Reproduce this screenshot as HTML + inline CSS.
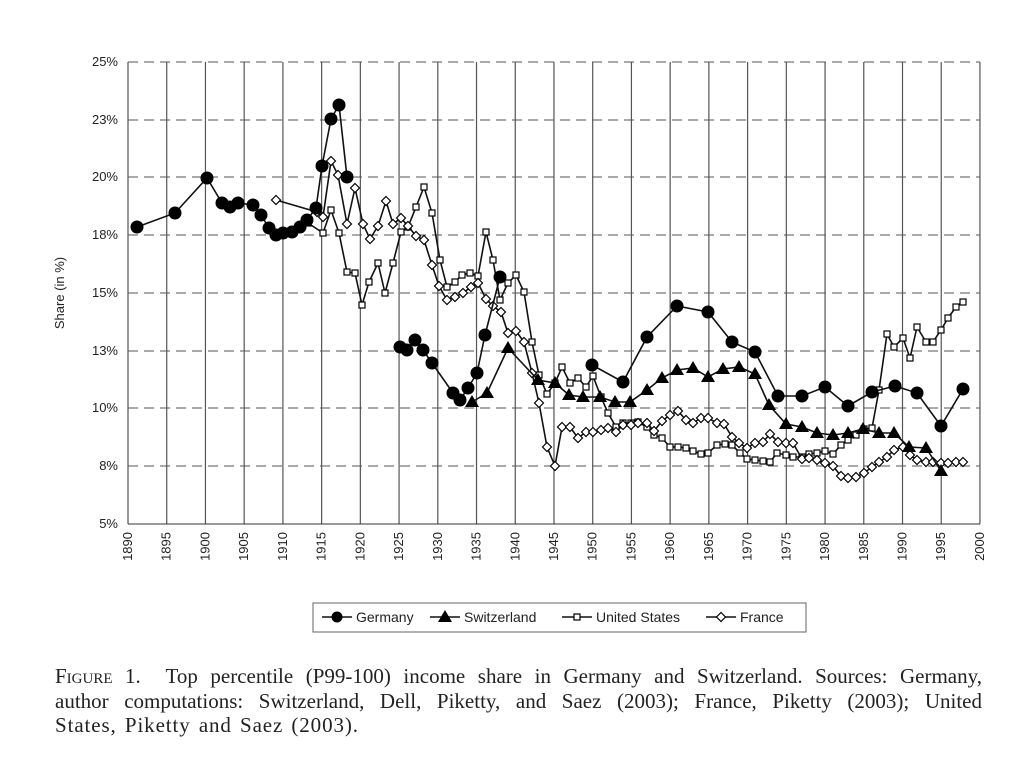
<!DOCTYPE html>
<html><head><meta charset="utf-8"><style>
body{margin:0;background:#fff;width:1024px;height:776px;overflow:hidden}
.cap{position:absolute;left:55px;top:664px;width:927px;font-family:"Liberation Serif",serif;font-size:21px;line-height:24.5px;color:#222}
.cap div{white-space:nowrap}
.j{text-align:justify;text-align-last:justify}
</style></head><body>
<svg id="s" width="1024" height="776" style="position:absolute;left:0;top:0" xmlns="http://www.w3.org/2000/svg" font-family="Liberation Sans, sans-serif"></svg>
<div class="cap"><div class="j"><span style="font-variant:small-caps">Figure</span> 1.&nbsp; Top percentile (P99-100) income share in Germany and Switzerland. Sources: Germany,</div><div class="j">author computations: Switzerland, Dell, Piketty, and Saez (2003); France, Piketty (2003); United</div><div style="letter-spacing:0.9px;word-spacing:2px">States, Piketty and Saez (2003).</div></div>
<script>
const s=document.getElementById('s');let h='';
const X=y=>128+(y-1890)*7.745;
const yt=[[62,'25%'],[120,'23%'],[177,'20%'],[235,'18%'],[293,'15%'],[351,'13%'],[408,'10%'],[466,'8%'],[524,'5%']];
yt.forEach(([y,l])=>{h+=`<line x1="128" x2="980" y1="${y}" y2="${y}" stroke="#555" stroke-width="1" stroke-dasharray="10,6"/>`;
h+=`<text x="118" y="${y+4}" font-size="13" text-anchor="end" fill="#222">${l}</text>`;});
for(let yr=1890;yr<=2000;yr+=5){const x=X(yr);h+=`<line x1="${x}" x2="${x}" y1="62" y2="524" stroke="#555" stroke-width="1.2"/>`;
h+=`<text transform="translate(${x+4},532) rotate(-90)" font-size="13" text-anchor="end" fill="#222">${yr}</text>`;}
h+=`<line x1="128" x2="980" y1="524" y2="524" stroke="#333"/>`;
h+=`<text transform="translate(64,293) rotate(-90)" font-size="13" text-anchor="middle" fill="#222">Share (in %)</text>`;
const G=[[137,227],[175,213],[207,178],[222,203],[230,207],[238,203],[253,205],[261,215],[269,228],[276,235],[283,233],[292,232],[300,227],[307,220],[316,208],[322,166],[331,119],[339,105],[347,177],null,[400,347],[407,350],[415,340],[423,350],[432,363],[453,393],[460,400],[468,388],[477,373],[485,335],[500,277],null,[592,365],[623,382],[647,337],[677,306],[708,312],[732,342],[755,352],[778,396],[802,396],[825,387],[848,406],[872,392],[895,386],[917,393],[941,426],[963,389]];
const S=[[472,402],[487,393],[508,348],[538,380],[555,383],[569,395],[583,397],[600,397],[615,402],[630,402],[647,390],[662,378],[677,370],[693,368],[708,377],[723,369],[739,367],[755,374],[769,405],[786,424],[802,427],[817,433],[833,435],[848,433],[863,429],[879,433],[894,433],[909,447],[926,448],[941,471]];
const U=[[308,223],[323,233],[331,210],[339,233],[347,272],[355,273],[362,305],[369,282],[378,263],[385,293],[393,263],[401,232],[408,227],[416,207],[424,187],[432,213],[440,260],[447,287],[455,282],[462,275],[470,273],[478,276],[486,232],[493,260],[500,300],[508,283],[516,275],[524,292],[532,342],[539,375],[547,394],[555,383],[562,367],[570,383],[578,378],[586,387],[593,376],[601,397],[608,413],[616,427],[623,423],[631,423],[638,422],[647,427],[654,435],[662,438],[670,447],[678,447],[686,448],[693,451],[701,454],[708,453],[717,445],[725,444],[732,445],[740,453],[747,459],[755,460],[763,461],[770,462],[777,453],[786,455],[793,457],[802,457],[809,454],[817,453],[825,451],[833,454],[841,445],[848,440],[856,435],[864,429],[872,428],[879,390],[887,334],[894,347],[903,338],[910,358],[917,327],[926,342],[933,342],[941,330],[948,318],[956,307],[963,302]];
const F=[[276,200],[317,212],[323,217],[331,161],[338,175],[347,224],[355,188],[363,224],[370,239],[378,226],[386,201],[393,224],[401,218],[408,226],[416,236],[424,240],[432,265],[439,286],[447,300],[455,297],[463,293],[471,287],[478,283],[486,299],[493,306],[501,312],[508,333],[516,331],[524,342],[532,373],[539,403],[547,447],[555,466],[562,427],[570,427],[578,438],[586,432],[593,432],[601,430],[608,428],[616,432],[623,425],[631,425],[638,423],[647,423],[654,431],[662,421],[670,415],[678,411],[686,420],[693,423],[701,418],[708,418],[717,423],[724,424],[732,437],[739,443],[747,448],[755,443],[763,442],[770,434],[778,442],[786,443],[793,443],[802,459],[809,458],[817,460],[825,463],[833,466],[841,476],[848,478],[856,477],[864,473],[872,467],[879,462],[887,457],[894,450],[903,447],[910,455],[917,460],[926,462],[933,462],[941,463],[948,463],[956,462],[963,462]];
function line(d){let segs=[[]];d.forEach(p=>{if(!p)segs.push([]);else segs[segs.length-1].push(p)});
segs.forEach(sg=>{h+=`<polyline fill="none" stroke="#111" stroke-width="1.6" points="${sg.map(p=>p.join(',')).join(' ')}"/>`});}
const mk={
g:(x,y)=>`<circle cx="${x}" cy="${y}" r="6.5" fill="#000"/>`,
s:(x,y)=>`<polygon points="${x},${y-7} ${x+7},${y+5} ${x-7},${y+5}" fill="#000"/>`,
u:(x,y)=>`<rect x="${x-3}" y="${y-3}" width="6" height="6" fill="#fff" stroke="#000" stroke-width="1.2"/>`,
f:(x,y)=>`<polygon points="${x},${y-4.5} ${x+4.5},${y} ${x},${y+4.5} ${x-4.5},${y}" fill="#fff" stroke="#000" stroke-width="1.2"/>`};
[[U,'u'],[F,'f'],[S,'s'],[G,'g']].forEach(([d,k])=>{line(d);d.forEach(p=>{if(p)h+=mk[k](p[0],p[1])})});
h+=`<rect x="313" y="603" width="493" height="29" fill="#fff" stroke="#666" stroke-width="1"/>`;
const L=[[322,'g','Germany'],[430,'s','Switzerland'],[562,'u','United States'],[706,'f','France']];
L.forEach(([x,k,t])=>{h+=`<line x1="${x}" x2="${x+30}" y1="617" y2="617" stroke="#111" stroke-width="1.6"/>`+mk[k](x+15,617).replace('r="6.5"','r="5.5"');
h+=`<text x="${x+34}" y="622" font-size="14" fill="#222">${t}</text>`;});
s.innerHTML=h;
</script>
</body></html>
